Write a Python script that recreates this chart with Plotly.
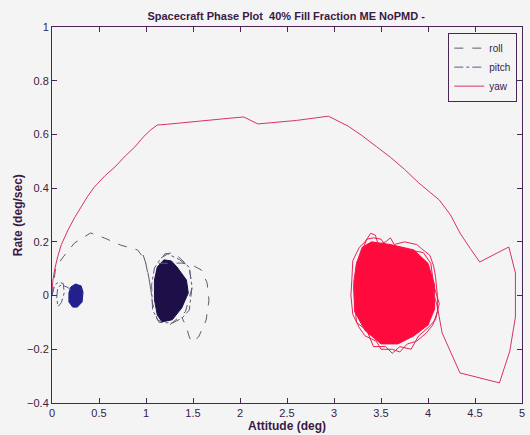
import plotly.graph_objects as go

# ---- roll: transient arc from the origin, settling loops, limit-cycle region
roll_x = [0.00, 0.02, 0.04, 0.12, 0.24, 0.41, 0.56, 0.73, 0.91, 0.99, 1.01, 1.04,
          1.07, 1.12, 1.25, 1.42, 1.49, 1.46, 1.30, 1.20, 1.13,
          1.38, 1.49, 1.59, 1.65, 1.67, 1.64, 1.56, 1.49, 1.46, 1.43, 1.38]
roll_y = [0.00, 0.05, 0.106, 0.144, 0.196, 0.233, 0.214, 0.188, 0.170, 0.133, 0.103, 0.047,
          -0.030, -0.090, -0.110, -0.060, 0.030, 0.106, 0.160, 0.155, 0.120,
          0.121, 0.114, 0.095, 0.047, -0.017, -0.091, -0.154, -0.173, -0.154, -0.117, -0.08]

roll_ring_x = [1.16, 1.23, 1.35, 1.46, 1.49, 1.46, 1.38, 1.28, 1.14, 1.07, 1.06, 1.09, 1.16]
roll_ring_y = [0.140, 0.155, 0.135, 0.106, 0.032, -0.054, -0.085, -0.102, -0.100, -0.054, 0.040, 0.103, 0.140]

roll_lead_x = [0.97, 1.01, 1.04, 1.06]
roll_lead_y = [0.151, 0.106, 0.047, 0.000]

roll_blob_x = [1.19, 1.12, 1.09, 1.09, 1.12, 1.17, 1.28, 1.38, 1.45, 1.43, 1.33, 1.27, 1.19]
roll_blob_y = [0.133, 0.106, 0.058, -0.016, -0.072, -0.098, -0.090, -0.046, 0.010, 0.058, 0.106, 0.129, 0.133]

# ---- pitch: small transient loop near the origin, then a tight cluster
pitch_x = [0.00, 0.03, 0.07, 0.12, 0.13, 0.10, 0.064, 0.05, 0.06, 0.10, 0.17, 0.20]
pitch_y = [0.00, 0.040, 0.050, 0.045, 0.010, -0.026, -0.041, -0.010, 0.030, 0.040, 0.030, 0.020]

pitch_blob_x = [0.25, 0.20, 0.18, 0.18, 0.22, 0.27, 0.32, 0.33, 0.31, 0.25]
pitch_blob_y = [0.043, 0.032, 0.010, -0.024, -0.043, -0.043, -0.024, 0.013, 0.036, 0.043]

# ---- yaw: large slew arc, overshoot, then limit cycle around 3.6 deg
yaw_x = [0.00, 0.003, 0.01, 0.03, 0.06, 0.10, 0.17, 0.24, 0.31, 0.38, 0.45, 0.56, 0.67,
         0.78, 0.88, 0.97, 1.05, 1.12, 1.23, 1.50,
         1.88, 2.04, 2.19, 2.60, 2.94, 3.15, 3.30, 3.45, 3.60, 3.75, 3.90, 4.02, 4.12,
         4.24, 4.34, 4.45, 4.55,
         4.86, 4.93, 4.93, 4.87, 4.76, 4.34, 4.15, 4.10, 4.05]
yaw_y = [0.020, 0.040, 0.058, 0.100, 0.144, 0.190, 0.244, 0.290, 0.330, 0.370, 0.404, 0.445, 0.479,
         0.520, 0.553, 0.590, 0.617, 0.635, 0.638, 0.648,
         0.660, 0.665, 0.639, 0.652, 0.668, 0.631, 0.595, 0.555, 0.515, 0.470, 0.420, 0.385, 0.356,
         0.300, 0.233, 0.175, 0.125,
         0.181, 0.084, -0.080, -0.207, -0.325, -0.288, -0.139, -0.042, 0.020]

yaw_ring1_x = [3.39, 3.44, 3.47, 3.55, 3.60, 3.64, 3.75, 3.88, 3.93, 4.02, 4.06, 4.08, 4.10,
               4.10, 4.05, 3.98, 3.88, 3.78, 3.70, 3.62, 3.50, 3.45, 3.33, 3.27, 3.20,
               3.18, 3.19, 3.20, 3.27, 3.33, 3.39]
yaw_ring1_y = [0.232, 0.225, 0.190, 0.200, 0.215, 0.190, 0.200, 0.190, 0.175, 0.150, 0.110, 0.070, 0.000,
               -0.060, -0.110, -0.140, -0.170, -0.180, -0.210, -0.200, -0.200, -0.170, -0.150, -0.120, -0.070,
               0.000, 0.060, 0.130, 0.180, 0.200, 0.232]

yaw_ring2_x = [3.42, 3.50, 3.58, 3.70, 3.80, 3.95, 4.03, 4.06, 4.12, 4.08, 4.00, 3.90, 3.82,
               3.70, 3.62, 3.55, 3.42, 3.35, 3.24, 3.22, 3.21, 3.24, 3.30, 3.35, 3.42]
yaw_ring2_y = [0.215, 0.210, 0.170, 0.180, 0.170, 0.160, 0.120, 0.040, -0.030, -0.090, -0.120, -0.150, -0.200,
               -0.190, -0.215, -0.190, -0.190, -0.130, -0.100, -0.030, 0.050, 0.120, 0.170, 0.210, 0.215]

yaw_blob_x = [3.40, 3.60, 3.85, 4.00, 4.07, 4.07, 4.00, 3.85, 3.68, 3.50, 3.33, 3.22, 3.21, 3.24, 3.30, 3.40]
yaw_blob_y = [0.200, 0.190, 0.170, 0.120, 0.040, -0.050, -0.110, -0.150, -0.180, -0.180, -0.130, -0.060, 0.030, 0.120, 0.180, 0.200]

ROLL_LINE = "#5e5a70"
ROLL_FILL = "#1d1048"
PITCH_LINE = "#5a5a96"
PITCH_FILL = "#22208c"
YAW_LINE = "#d8306e"
YAW_FILL = "#ff0a3c"
AXIS = "#4a2656"
TEXT = "#3a1a44"
BG = "#f4f4f4"
FONT = "Liberation Sans, Arial, sans-serif"

fig = go.Figure()

# filled clusters first so the trajectories sit on top
fig.add_trace(go.Scatter(x=roll_blob_x, y=roll_blob_y, fill="toself", fillcolor=ROLL_FILL,
                         mode="lines", line=dict(color=ROLL_FILL, width=1),
                         legendgroup="roll", showlegend=False, hoverinfo="skip"))
fig.add_trace(go.Scatter(x=pitch_blob_x, y=pitch_blob_y, fill="toself", fillcolor=PITCH_FILL,
                         mode="lines", line=dict(color=PITCH_FILL, width=1),
                         legendgroup="pitch", showlegend=False, hoverinfo="skip"))
fig.add_trace(go.Scatter(x=yaw_blob_x, y=yaw_blob_y, fill="toself", fillcolor=YAW_FILL,
                         mode="lines", line=dict(color=YAW_FILL, width=1),
                         legendgroup="yaw", showlegend=False, hoverinfo="skip"))

fig.add_trace(go.Scatter(x=roll_x, y=roll_y, mode="lines", name="roll", legendgroup="roll",
                         line=dict(color=ROLL_LINE, width=1, dash="dash")))
fig.add_trace(go.Scatter(x=roll_ring_x, y=roll_ring_y, mode="lines", legendgroup="roll",
                         showlegend=False, line=dict(color=ROLL_LINE, width=1, dash="dashdot")))
fig.add_trace(go.Scatter(x=roll_lead_x, y=roll_lead_y, mode="lines", legendgroup="roll",
                         showlegend=False, line=dict(color=ROLL_LINE, width=1, dash="dash")))

fig.add_trace(go.Scatter(x=pitch_x, y=pitch_y, mode="lines", name="pitch", legendgroup="pitch",
                         line=dict(color=PITCH_LINE, width=1, dash="dashdot")))

fig.add_trace(go.Scatter(x=yaw_x, y=yaw_y, mode="lines", name="yaw", legendgroup="yaw",
                         line=dict(color=YAW_LINE, width=1)))
fig.add_trace(go.Scatter(x=yaw_ring1_x, y=yaw_ring1_y, mode="lines", legendgroup="yaw",
                         showlegend=False, line=dict(color="#e8245a", width=1)))
fig.add_trace(go.Scatter(x=yaw_ring2_x, y=yaw_ring2_y, mode="lines", legendgroup="yaw",
                         showlegend=False, line=dict(color="#ee1a4e", width=1)))

axis_common = dict(showline=True, mirror="ticks", linecolor=AXIS, linewidth=1,
                   ticks="inside", ticklen=5, tickcolor=AXIS, showgrid=False, zeroline=False,
                   tickfont=dict(family=FONT, size=11, color=TEXT))

fig.update_layout(
    width=530, height=435,
    margin=dict(l=52, r=5, t=27, b=32),
    paper_bgcolor=BG, plot_bgcolor=BG,
    font=dict(family=FONT, color=TEXT),
    title=dict(text="<b>Spacecraft Phase Plot  40% Fill Fraction ME NoPMD -</b>",
               font=dict(family=FONT, size=11, color=TEXT),
               x=0.54, xref="container", xanchor="center",
               y=1 - 16 / 435, yref="container", yanchor="middle"),
    xaxis=dict(range=[0, 5], dtick=0.5, tick0=0, **axis_common),
    yaxis=dict(range=[-0.4, 1], dtick=0.2, tick0=-0.4, **axis_common),
    showlegend=True,
    legend=dict(x=0.99, y=0.985, xanchor="right", yanchor="top",
                bgcolor=BG, bordercolor=AXIS, borderwidth=1,
                font=dict(family=FONT, size=10, color=TEXT),
                tracegroupgap=0, itemwidth=30),
    annotations=[
        dict(text="<b>Attitude (deg)</b>", xref="paper", yref="paper", x=0.5, y=-23 / 376,
             xanchor="center", yanchor="middle", showarrow=False,
             font=dict(family=FONT, size=12, color=TEXT)),
        dict(text="<b>Rate (deg/sec)</b>", xref="paper", yref="paper", x=-34 / 473, y=0.5,
             xanchor="center", yanchor="middle", textangle=-90, showarrow=False,
             font=dict(family=FONT, size=12, color=TEXT)),
    ],
)

fig.write_html("out.html")
